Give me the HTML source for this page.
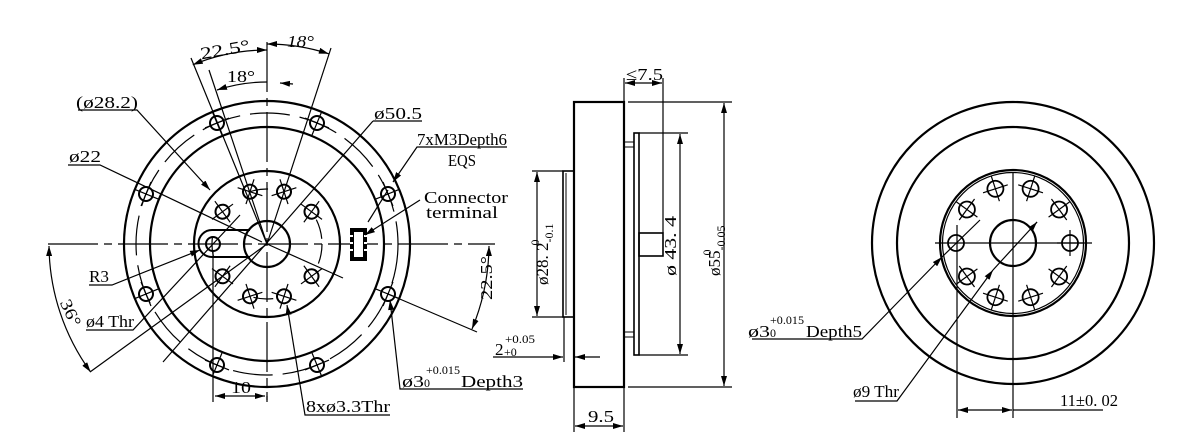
<!DOCTYPE html>
<html><head><meta charset="utf-8"><style>
html,body{margin:0;padding:0;background:#fff}
svg{display:block}
text{font-family:"Liberation Serif","DejaVu Serif",serif;fill:#000}
</style></head><body>
<svg width="1202" height="446" viewBox="0 0 1202 446" xmlns="http://www.w3.org/2000/svg">
<defs>
<symbol id="h" overflow="visible"><g fill="none" stroke="#000"><circle r="7" stroke-width="2"/><line x1="-13" y1="0" x2="13" y2="0" stroke-width="1.2"/><line x1="0" y1="-13" x2="0" y2="13" stroke-width="1.2"/></g></symbol>
<symbol id="hx" overflow="visible"><g fill="none" stroke="#000"><circle r="8" stroke-width="1.8"/><line x1="-13" y1="0" x2="13" y2="0" stroke-width="1.2"/><line x1="0" y1="-13" x2="0" y2="13" stroke-width="1.2"/></g></symbol>
<marker id="a" viewBox="0 0 10 6" refX="10" refY="3" markerWidth="10" markerHeight="6" orient="auto-start-reverse" markerUnits="userSpaceOnUse"><path d="M0,0 L10,3 L0,6z" fill="#000"/></marker>
</defs>
<g fill="none" stroke="#000">
<circle cx="267" cy="244" r="143" stroke-width="2.2"/>
<circle cx="267" cy="244" r="117" stroke-width="2.2"/>
<circle cx="267" cy="244" r="131" stroke-width="1.2" stroke-dasharray="40 10"/>
<circle cx="267" cy="244" r="73" stroke-width="2.2"/>
<circle cx="267" cy="244" r="23" stroke-width="2.2"/>
<circle cx="267" cy="244" r="55" stroke-width="1.2" stroke-dasharray="20 60"/>
<line x1="48" y1="244" x2="495" y2="244" stroke-width="1.2" stroke-dasharray="50 6 8 6"/>
<line x1="267" y1="42" x2="267" y2="400" stroke-width="1.2" stroke-dasharray="50 6 8 6"/>
<path d="M250,230 L212,230 A13.5,13.5 0 0 0 212,257 L250,257" stroke-width="2"/>
<circle cx="213" cy="244" r="7" stroke-width="2"/>
<rect x="350" y="228" width="17" height="33" fill="#000" stroke="none"/>
<rect x="354" y="232" width="9" height="25" fill="#fff" stroke="none"/>
<g stroke="#fff" stroke-width="2"><line x1="350" y1="236" x2="353" y2="236"/><line x1="350" y1="243" x2="353" y2="243"/><line x1="350" y1="250" x2="353" y2="250"/><line x1="364" y1="236" x2="367" y2="236"/><line x1="364" y1="243" x2="367" y2="243"/><line x1="364" y1="250" x2="367" y2="250"/></g>
<g stroke-width="1.2">
<line x1="267" y1="244" x2="191" y2="58"/>
<line x1="267" y1="244" x2="331" y2="48"/>
<line x1="267" y1="244" x2="209" y2="70"/>
<line x1="267" y1="244" x2="90" y2="372"/>
<line x1="388" y1="294" x2="477" y2="332"/>
<line x1="267" y1="244" x2="343" y2="278"/>
</g>
<g stroke-width="1.2">
<path d="M192.8,64.8 A194,194 0 0 1 267,50" marker-start="url(#a)" marker-end="url(#a)"/>
<path d="M267,44 A200,200 0 0 1 328.8,53.8" marker-start="url(#a)" marker-end="url(#a)"/>
<path d="M217,90 A162,162 0 0 1 267,82" marker-start="url(#a)"/>
<path d="M293,84 L280,83" marker-end="url(#a)"/>
<path d="M49,246 A218,218 0 0 0 90.6,372" marker-start="url(#a)" marker-end="url(#a)"/>
<path d="M489,246 A222,222 0 0 1 472,329" marker-start="url(#a)" marker-end="url(#a)"/>
</g>
<g stroke-width="1.2">
<polyline points="78,110 137,110 210,190" marker-end="url(#a)"/>
<polyline points="68,165 100,165 262,242"/>
<polyline points="89,285 112,285 200,250" marker-end="url(#a)"/>
<polyline points="86,330 133,330 240,215"/>
<line x1="163" y1="362" x2="373" y2="121"/>
<polyline points="373,121 422,121"/>
<polyline points="507,147 417,147 393,182" marker-end="url(#a)"/>
<line x1="388" y1="190" x2="368" y2="222"/>
<polyline points="420,200 365,235" marker-end="url(#a)"/>
<polyline points="390,415 305,415 287,305" marker-end="url(#a)"/>
<polyline points="523,389 400,389 390,300" marker-end="url(#a)"/>
<line x1="213" y1="252" x2="213" y2="402"/>
<line x1="215" y1="396" x2="265" y2="396" marker-start="url(#a)" marker-end="url(#a)"/>
<line x1="267" y1="396" x2="267" y2="402"/>
</g>
</g>
<g>
<use href="#h" transform="translate(284,191.7) rotate(-18)"/>
<use href="#h" transform="translate(250,191.7) rotate(18)"/>
<use href="#h" transform="translate(311.5,211.7) rotate(-54)"/>
<use href="#h" transform="translate(222.5,211.7) rotate(54)"/>
<use href="#h" transform="translate(311.5,276.3) rotate(54)"/>
<use href="#h" transform="translate(222.5,276.3) rotate(-54)"/>
<use href="#h" transform="translate(284,296.3) rotate(18)"/>
<use href="#h" transform="translate(250,296.3) rotate(-18)"/>
<use href="#h" transform="translate(388,194) rotate(-22.5)"/>
<use href="#h" transform="translate(146,194) rotate(22.5)"/>
<use href="#h" transform="translate(388,294) rotate(22.5)"/>
<use href="#h" transform="translate(146,294) rotate(-22.5)"/>
<use href="#h" transform="translate(317,123) rotate(-67.5)"/>
<use href="#h" transform="translate(217,123) rotate(67.5)"/>
<use href="#h" transform="translate(317,365) rotate(67.5)"/>
<use href="#h" transform="translate(217,365) rotate(-67.5)"/>
</g>
<g fill="none" stroke="#000">
<rect x="574" y="102" width="50" height="285" stroke-width="2.2"/>
<rect x="563" y="171" width="11" height="146" stroke-width="1.6"/>
<line x1="566" y1="173" x2="566" y2="315" stroke-width="1"/>
<rect x="634" y="133" width="5" height="222" stroke-width="1.6"/>
<rect x="624" y="142" width="10" height="5" stroke-width="1"/>
<rect x="624" y="332" width="10" height="5" stroke-width="1"/>
<rect x="639" y="233" width="24" height="23" stroke-width="1.6"/>
<g stroke-width="1.2">
<line x1="639" y1="133" x2="688" y2="133"/><line x1="639" y1="355" x2="688" y2="355"/>
<line x1="663" y1="233" x2="663" y2="78"/><line x1="624" y1="102" x2="624" y2="78"/>
<line x1="625" y1="83" x2="662" y2="83" marker-start="url(#a)" marker-end="url(#a)"/>
<line x1="680" y1="134" x2="680" y2="354" marker-start="url(#a)" marker-end="url(#a)"/>
<line x1="628" y1="102" x2="732" y2="102"/><line x1="628" y1="387" x2="732" y2="387"/>
<line x1="724" y1="103" x2="724" y2="386" marker-start="url(#a)" marker-end="url(#a)"/>
<line x1="532" y1="171" x2="563" y2="171"/><line x1="532" y1="317" x2="563" y2="317"/>
<line x1="537" y1="172" x2="537" y2="316" marker-start="url(#a)" marker-end="url(#a)"/>
<line x1="574" y1="387" x2="574" y2="432"/><line x1="624" y1="387" x2="624" y2="432"/>
<line x1="575" y1="426" x2="623" y2="426" marker-start="url(#a)" marker-end="url(#a)"/>
<line x1="564" y1="317" x2="564" y2="362"/>
<line x1="493" y1="357" x2="563" y2="357" marker-end="url(#a)"/>
<line x1="600" y1="357" x2="575" y2="357" marker-end="url(#a)"/>
</g>
</g>
<g fill="none" stroke="#000">
<circle cx="1013" cy="243" r="141" stroke-width="2.2"/>
<circle cx="1013" cy="243" r="116" stroke-width="2.2"/>
<circle cx="1013" cy="243" r="73" stroke-width="2.2"/>
<circle cx="1013" cy="243" r="70.5" stroke-width="1.2"/>
<circle cx="1013" cy="243" r="23" stroke-width="2.2"/>
<g stroke-width="1.2">
<line x1="935" y1="243" x2="1092" y2="243"/>
<line x1="1013" y1="173" x2="1013" y2="418"/>
<line x1="957" y1="225" x2="957" y2="418"/>
<line x1="958" y1="410" x2="1012" y2="410" marker-start="url(#a)" marker-end="url(#a)"/>
<line x1="1013" y1="410" x2="1103" y2="410"/>
<polyline points="752,339 862,339 942,257" marker-end="url(#a)"/>
<line x1="942" y1="257" x2="980" y2="220"/>
<polyline points="855,401 897,401 993,270" marker-end="url(#a)"/>
<line x1="993" y1="270" x2="1037" y2="222"/>
<line x1="1037" y1="222" x2="1030" y2="230" marker-start="url(#a)"/>
</g>
</g>
<g>
<use href="#hx" transform="translate(1070,243) rotate(0)"/>
<use href="#hx" transform="translate(1059.1,209.5) rotate(-36)"/>
<use href="#hx" transform="translate(1030.6,188.8) rotate(-72)"/>
<use href="#hx" transform="translate(995.4,188.8) rotate(-108)"/>
<use href="#hx" transform="translate(966.9,209.5) rotate(-144)"/>
<circle cx="956" cy="243" r="8" fill="none" stroke="#000" stroke-width="1.8"/>
<use href="#hx" transform="translate(966.9,276.5) rotate(144)"/>
<use href="#hx" transform="translate(995.4,297.2) rotate(108)"/>
<use href="#hx" transform="translate(1030.6,297.2) rotate(72)"/>
<use href="#hx" transform="translate(1059.1,276.5) rotate(36)"/>
</g>
<g font-size="17">
<text x="200" y="56" transform="rotate(-10 220 50)" textLength="50" lengthAdjust="spacingAndGlyphs">22.5°</text>
<text x="287" y="47" font-style="italic" textLength="27" lengthAdjust="spacingAndGlyphs">18°</text>
<text x="227" y="82" textLength="28" lengthAdjust="spacingAndGlyphs">18°</text>
<text x="76" y="108" textLength="62" lengthAdjust="spacingAndGlyphs">(ø28.2)</text>
<text x="69" y="162" textLength="32" lengthAdjust="spacingAndGlyphs">ø22</text>
<text x="374" y="119" textLength="48" lengthAdjust="spacingAndGlyphs">ø50.5</text>
<text x="417" y="145" textLength="90" lengthAdjust="spacingAndGlyphs">7xM3Depth6</text>
<text x="448" y="166" textLength="28" lengthAdjust="spacingAndGlyphs">EQS</text>
<text x="424" y="203" textLength="84" lengthAdjust="spacingAndGlyphs">Connector</text>
<text x="426" y="218" textLength="72" lengthAdjust="spacingAndGlyphs">terminal</text>
<text x="89" y="282" textLength="20" lengthAdjust="spacingAndGlyphs">R3</text>
<text x="86" y="327" textLength="48" lengthAdjust="spacingAndGlyphs">ø4 Thr</text>
<text x="60" y="318" transform="rotate(65 72 310)" textLength="28" lengthAdjust="spacingAndGlyphs">36°</text>
<text x="480" y="312" transform="rotate(-90 480 300)" textLength="44" lengthAdjust="spacingAndGlyphs">22.5°</text>
<text x="231" y="393" textLength="20" lengthAdjust="spacingAndGlyphs">10</text>
<text x="306" y="412" textLength="84" lengthAdjust="spacingAndGlyphs">8xø3.3Thr</text>
<text x="402" y="387" textLength="22" lengthAdjust="spacingAndGlyphs">ø3</text><text x="424" y="387" font-size="12">0</text><text x="426" y="374" font-size="12" textLength="34" lengthAdjust="spacingAndGlyphs">+0.015</text><text x="461" y="387" textLength="62" lengthAdjust="spacingAndGlyphs">Depth3</text>
<text x="495" y="355">2</text><text x="504" y="356" font-size="12">+0</text><text x="505" y="343" font-size="12" textLength="30" lengthAdjust="spacingAndGlyphs">+0.05</text>
<text x="626" y="80" textLength="37" lengthAdjust="spacingAndGlyphs">≤7.5</text>
<text x="588" y="422" textLength="26" lengthAdjust="spacingAndGlyphs">9.5</text>
<text transform="translate(676,276) rotate(-90)" textLength="60" lengthAdjust="spacingAndGlyphs">ø 43. 4</text>
<text transform="translate(720,276) rotate(-90)">ø55<tspan font-size="12" dy="5">-0.05</tspan><tspan font-size="12" dx="-30" dy="-14">0</tspan></text>
<text transform="translate(548,285) rotate(-90)">ø28. 2<tspan font-size="12" dy="5">-0.1</tspan><tspan font-size="12" dx="-22" dy="-14">0</tspan></text>
<text x="748" y="337" textLength="22" lengthAdjust="spacingAndGlyphs">ø3</text><text x="770" y="337" font-size="12">0</text><text x="770" y="324" font-size="12" textLength="34" lengthAdjust="spacingAndGlyphs">+0.015</text><text x="806" y="337" textLength="56" lengthAdjust="spacingAndGlyphs">Depth5</text>
<text x="853" y="397" textLength="46" lengthAdjust="spacingAndGlyphs">ø9 Thr</text>
<text x="1060" y="406" textLength="58" lengthAdjust="spacingAndGlyphs">11±0. 02</text>
</g>
</svg>
</body></html>
